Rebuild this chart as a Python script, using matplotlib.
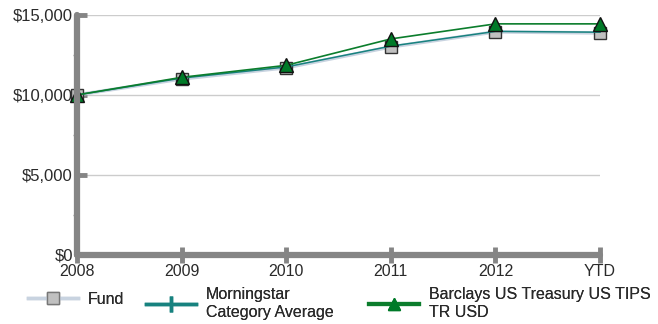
import matplotlib
matplotlib.use("Agg")
import matplotlib.pyplot as plt
from matplotlib.lines import Line2D
from matplotlib.ticker import FuncFormatter, MultipleLocator

categories = ["2008", "2009", "2010", "2011", "2012", "YTD"]
fund = [10000, 11000, 11700, 13000, 13940, 13870]
category_avg = [10000, 11050, 11750, 13050, 13970, 13920]
benchmark = [10000, 11100, 11850, 13500, 14440, 14440]
y_ticks = [0, 5000, 10000, 15000]
legend_labels = ["Fund", "Morningstar\nCategory Average", "Barclays US Treasury US TIPS\nTR USD"]

plt.rcParams['font.family'] = ['Liberation Sans', 'DejaVu Sans']

fig = plt.figure(figsize=(6.58, 3.24), dpi=100)
ax = fig.add_axes([0.117, 0.213, 0.795, 0.741])

x = list(range(len(categories)))
fund_color = '#c8d3e0'
cat_color = '#17827f'
bench_color = '#0b7d2c'
text_color = '#2a2a2a'

ax.plot(x, fund, color=fund_color, lw=2.5, marker='s', ms=9,
        mfc='#c0c0c0', mec='#333333', mew=1.0, zorder=3, clip_on=False)
ax.plot(x, category_avg, color=cat_color, lw=1.1, zorder=4, clip_on=False)
ax.plot(x, benchmark, color=bench_color, lw=1.2, marker='^', ms=10,
        mfc='#007a28', mec='#111111', mew=1.0, zorder=5, clip_on=False)

ax.set_xlim(0, len(categories) - 1)
ax.set_ylim(0, 15000)
ax.set_xticks(x)
ax.set_xticklabels(categories)
ax.set_yticks(y_ticks)
ax.yaxis.set_major_formatter(FuncFormatter(lambda v, p: f"${v:,.0f}"))
ax.yaxis.set_minor_locator(MultipleLocator(2500))

ax.grid(axis='y', which='major', color='#cccccc', lw=1)
ax.set_axisbelow(True)

for s in ['top', 'right']:
    ax.spines[s].set_visible(False)
for s in ['left', 'bottom']:
    ax.spines[s].set_color('#858585')
    ax.spines[s].set_linewidth(4.5)
    ax.spines[s].set_capstyle('round')
    ax.spines[s].set_zorder(6)

ax.tick_params(axis='x', which='major', direction='inout', length=11, width=3.5,
               color='#858585', labelsize=11.5, pad=1, labelcolor=text_color)
ax.tick_params(axis='y', which='major', direction='in', length=7, width=3.5,
               color='#858585', labelsize=12, pad=3, labelcolor=text_color)
ax.tick_params(axis='y', which='minor', direction='out', length=3, width=1,
               color='#999999')

handles = [
    Line2D([], [], color=fund_color, lw=2.5, marker='s', ms=9, mfc='#c0c0c0', mec='#777777'),
    Line2D([], [], color=cat_color, lw=2.5, marker='|', ms=12, mew=2.5, mec=cat_color),
    Line2D([], [], color=bench_color, lw=3, marker='^', ms=9, mfc='#007a28', mec='#007a28'),
]
anchors = [(28 / 658, 0.100), (146 / 658, 0.113), (369 / 658, 0.113)]
for h, lab, anc in zip(handles, legend_labels, anchors):
    leg = fig.legend([h], [lab], loc='upper left', bbox_to_anchor=anc,
                     frameon=False, fontsize=11.5, handlelength=3.1,
                     handletextpad=0.65, borderpad=0, borderaxespad=0)
    for t in leg.get_texts():
        t.set_color(text_color)
    fig.add_artist(leg)

fig.savefig("out.png", dpi=100)
